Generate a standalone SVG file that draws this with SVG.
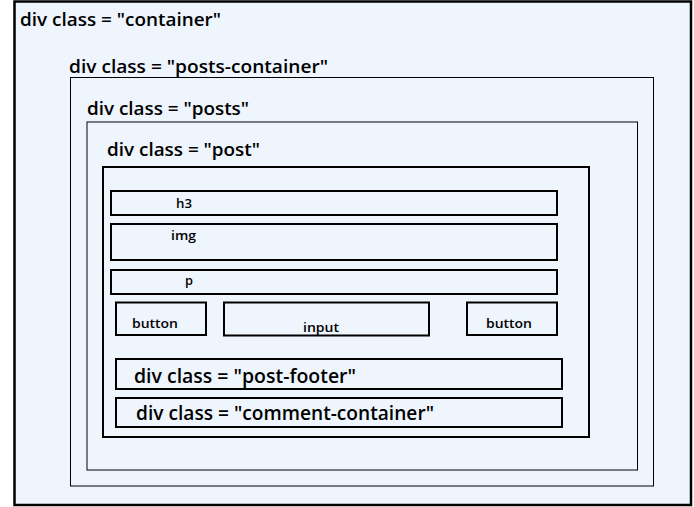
<svg xmlns="http://www.w3.org/2000/svg" width="694" height="507" viewBox="0 0 694 507">
<style>
.box{fill:#eef5fd;stroke:#000}
.thin{stroke-width:1}
.mid{stroke-width:2}
.thick{stroke-width:2.5}
text{font-family:"Open Sans","Liberation Sans",sans-serif;font-weight:600;fill:#000}
.big{font-size:17.5px}
.big2{font-size:19px}
.small{font-size:12.5px}
</style>
<rect width="694" height="507" fill="#ffffff"/>
<g id="container">
<rect class="box thick" x="14.5" y="1.5" width="676.5" height="503.5"/>
<text class="big" x="20" y="26" textLength="201" lengthAdjust="spacingAndGlyphs">div class = "container"</text>
</g>
<g id="posts-container">
<rect class="box thin" x="70.5" y="77.5" width="583" height="408.5"/>
<text class="big" x="69" y="73" textLength="259" lengthAdjust="spacingAndGlyphs">div class = "posts-container"</text>
</g>
<g id="posts">
<rect class="box thin" x="87" y="122" width="550.5" height="348"/>
<text class="big" x="87" y="115" textLength="162" lengthAdjust="spacingAndGlyphs">div class = "posts"</text>
</g>
<g id="post">
<rect class="box mid" x="103" y="167" width="486" height="270"/>
<text class="big" x="107" y="156" textLength="153" lengthAdjust="spacingAndGlyphs">div class = "post"</text>
</g>
<g id="h3">
<rect class="box mid" x="111" y="191" width="446" height="24"/>
<text class="small" x="176" y="208" textLength="16" lengthAdjust="spacingAndGlyphs">h3</text>
</g>
<g id="img">
<rect class="box mid" x="111" y="224" width="446" height="36"/>
<text class="small" x="171" y="240" textLength="25" lengthAdjust="spacingAndGlyphs">img</text>
</g>
<g id="p">
<rect class="box mid" x="111" y="270" width="446" height="24"/>
<text class="small" x="185" y="285" textLength="8" lengthAdjust="spacingAndGlyphs">p</text>
</g>
<g id="button1">
<rect class="box mid" x="116" y="302.5" width="90" height="32.5"/>
<text class="small" x="132" y="328" textLength="46" lengthAdjust="spacingAndGlyphs">button</text>
</g>
<g id="input">
<rect class="box mid" x="224" y="302.5" width="205" height="33"/>
<text class="small" x="303" y="332" textLength="36" lengthAdjust="spacingAndGlyphs">input</text>
</g>
<g id="button2">
<rect class="box mid" x="467" y="302.5" width="90" height="32.5"/>
<text class="small" x="486" y="328" textLength="46" lengthAdjust="spacingAndGlyphs">button</text>
</g>
<g id="post-footer">
<rect class="box mid" x="116" y="359" width="446" height="30"/>
<text class="big2" x="134" y="383" textLength="222" lengthAdjust="spacingAndGlyphs">div class = "post-footer"</text>
</g>
<g id="comment-container">
<rect class="box mid" x="116" y="398" width="446" height="29"/>
<text class="big2" x="136" y="420" textLength="298" lengthAdjust="spacingAndGlyphs">div class = "comment-container"</text>
</g>
<g id="connectors"></g>
</svg>
